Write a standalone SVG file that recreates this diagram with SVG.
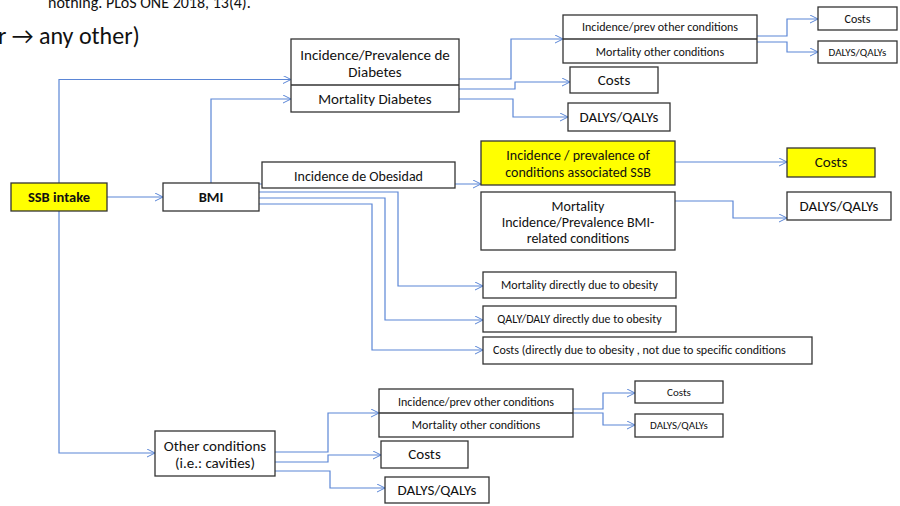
<svg xmlns="http://www.w3.org/2000/svg" width="900" height="506" viewBox="0 0 900 506">
<defs>
<marker id="arr" markerUnits="userSpaceOnUse" markerWidth="10" markerHeight="10" refX="8" refY="4" orient="auto">
<path d="M0,0 L8,4 L0,8" fill="none" stroke="#5b86d6" stroke-width="1"/>
</marker>
</defs>
<style>
.b{fill:#fff;stroke:#333;stroke-width:1.3}
.y{fill:#ffff00;stroke:#333;stroke-width:1.3}
.d{stroke:#333;stroke-width:1.3}
text{font-family:Carlito,Lato,"Liberation Sans",sans-serif;fill:#111;text-anchor:middle}
.c{fill:none;stroke:#5b86d6;stroke-width:1.2}
.a{marker-end:url(#arr)}
.f13{font-size:15px}
.f12{font-size:14px}
.f10{font-size:12px}
.f9{font-size:11px}
.bold{font-weight:bold;font-size:14.5px}
</style>
<rect width="900" height="506" fill="#fff"/>
<text x="48" y="8" style="font-size:16px;text-anchor:start">nothing. PLoS ONE 2018, 13(4).</text>
<text x="-2" y="44" style="font-size:24px;text-anchor:start">r → any other)</text>

<g id="connectors">
<path class="c a" d="M107,197 H163"/>
<path class="c a" d="M59,183 V79.5 H291"/>
<path class="c a" d="M59,211 V453 H155"/>
<path class="c a" d="M211,183 V99 H291"/>
<path class="c a" d="M459,79 H511 V39 H563"/>
<path class="c a" d="M459,89 H515 V82 H570"/>
<path class="c a" d="M459,99 H513 V117 H568"/>
<path class="c a" d="M757,36 H787 V19 H818"/>
<path class="c a" d="M757,42 H787 V52 H818"/>
<path class="c a" d="M259,184 H481"/>
<path class="c a" d="M259,192 H398 V286 H483"/>
<path class="c a" d="M259,198 H385 V320 H483"/>
<path class="c a" d="M259,204 H372 V350 H483"/>
<path class="c a" d="M675,162 H787"/>
<path class="c a" d="M675,201 H733 V218 H787"/>
<path class="c a" d="M275,452 H328 V413 H379"/>
<path class="c a" d="M275,462 H328 V455 H381"/>
<path class="c a" d="M275,471 H330 V488 H385"/>
<path class="c a" d="M573,409 H603 V393 H635"/>
<path class="c a" d="M573,413 H603 V425 H635"/>
</g>

<g id="ssb"><rect class="y" x="11" y="183" width="96" height="28"/><text class="bold" x="59" y="202">SSB intake</text></g>
<g id="bmi"><rect class="b" x="163" y="183" width="96" height="28"/><text class="bold" x="211" y="202">BMI</text></g>

<g id="diabetes"><rect class="b" x="291" y="39" width="168" height="73"/><line class="d" x1="291" y1="85" x2="459" y2="85"/>
<text class="f13" x="375" y="60">Incidence/Prevalence de</text><text class="f13" x="375" y="77">Diabetes</text>
<text class="f13" x="375" y="104">Mortality Diabetes</text></g>

<g id="tr-other"><rect class="b" x="563" y="15" width="194" height="48"/><line class="d" x1="563" y1="39" x2="757" y2="39"/>
<text class="f10" x="660" y="31">Incidence/prev other conditions</text><text class="f10" x="660" y="55.5">Mortality other conditions</text></g>
<g id="tr-costs"><rect class="b" x="818" y="7" width="79" height="23"/><text class="f10" x="857.5" y="22.5">Costs</text></g>
<g id="tr-dalys"><rect class="b" x="818" y="41" width="79" height="22"/><text class="f9" x="857.5" y="55.5">DALYS/QALYs</text></g>

<g id="diab-costs"><rect class="b" x="570" y="67" width="88" height="26"/><text class="f13" x="614" y="85">Costs</text></g>
<g id="diab-dalys"><rect class="b" x="568" y="103" width="102" height="28"/><text class="f13" x="619" y="122">DALYS/QALYs</text></g>

<g id="obesidad"><rect class="b" x="262" y="162" width="193" height="26"/><text class="f12" x="358.5" y="180.5">Incidence de Obesidad</text></g>
<g id="ssb-conds"><rect class="y" x="481" y="141" width="194" height="44"/><text class="f12" x="578" y="160">Incidence / prevalence of</text><text class="f12" x="578" y="177">conditions associated SSB</text></g>
<g id="bmi-conds"><rect class="b" x="481" y="192" width="194" height="58"/><text class="f12" x="578" y="211">Mortality</text><text class="f12" x="578" y="227">Incidence/Prevalence BMI-</text><text class="f12" x="578" y="243">related conditions</text></g>
<g id="costs-y"><rect class="y" x="787" y="148" width="88" height="29"/><text class="f13" x="831" y="167">Costs</text></g>
<g id="dalys-bmi"><rect class="b" x="787" y="192" width="104" height="28"/><text class="f13" x="839" y="211">DALYS/QALYs</text></g>

<g id="mort-ob"><rect class="b" x="483" y="272" width="193" height="26"/><text class="f10" x="579.5" y="289">Mortality directly due to obesity</text></g>
<g id="qaly-ob"><rect class="b" x="483" y="306" width="193" height="26"/><text class="f10" x="579.5" y="323">QALY/DALY directly due to obesity</text></g>
<g id="costs-ob"><rect class="b" x="483" y="337" width="329" height="27"/><text class="f10" x="493" y="354" style="text-anchor:start">Costs (directly due to obesity , not due to specific conditions</text></g>

<g id="other"><rect class="b" x="155" y="431" width="120" height="45"/><text class="f13" x="215" y="451">Other conditions</text><text class="f13" x="215" y="468">(i.e.: cavities)</text></g>
<g id="b-other"><rect class="b" x="379" y="389" width="194" height="48"/><line class="d" x1="379" y1="413" x2="573" y2="413"/>
<text class="f10" x="476" y="406">Incidence/prev other conditions</text><text class="f10" x="476" y="429">Mortality other conditions</text></g>
<g id="b-costs"><rect class="b" x="381" y="441" width="87" height="27"/><text class="f13" x="424.5" y="459">Costs</text></g>
<g id="b-dalys"><rect class="b" x="385" y="477" width="104" height="26"/><text class="f13" x="437" y="495">DALYS/QALYs</text></g>
<g id="br-costs"><rect class="b" x="635" y="381" width="88" height="22"/><text class="f9" x="679" y="395.5">Costs</text></g>
<g id="br-dalys"><rect class="b" x="635" y="414" width="88" height="23"/><text class="f9" x="679" y="429">DALYS/QALYs</text></g>
</svg>
